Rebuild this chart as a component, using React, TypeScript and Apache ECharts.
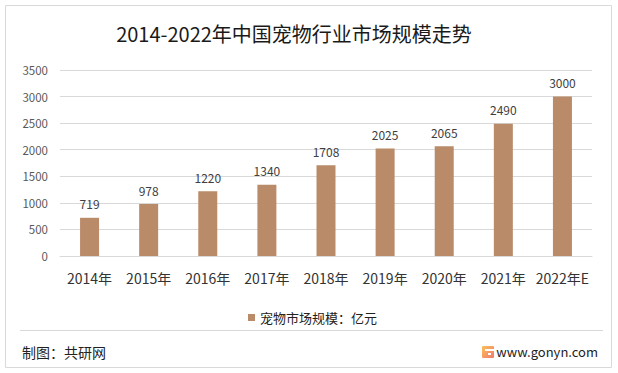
import React, { useEffect, useRef } from "react";
import * as echarts from "echarts";

const categories = ["2014年", "2015年", "2016年", "2017年", "2018年", "2019年", "2020年", "2021年", "2022年E"];
const marketSize = [719, 978, 1220, 1340, 1708, 2025, 2065, 2490, 3000];
const yTicks = [0, 500, 1000, 1500, 2000, 2500, 3000, 3500];
const titleText = "2014-2022年中国宠物行业市场规模走势";
const seriesName = "宠物市场规模：亿元";
const sourceText = "制图：共研网";
const siteText = "www.gonyn.com";

export default function App() {
  const ref = useRef<HTMLDivElement>(null);
  useEffect(() => {
    if (!ref.current) return;
    const chart = echarts.init(ref.current, undefined, { renderer: "svg" });
    const font = "'Microsoft YaHei', 'Noto Sans CJK SC', 'Noto Sans', sans-serif";
    chart.setOption({
      animation: false,
      backgroundColor: "#ffffff",
      textStyle: { fontFamily: font },
      title: {
        text: titleText,
        left: 289,
        textAlign: "center",
        top: 18,
        textStyle: { fontSize: 20, fontWeight: "normal", color: "#1a1a1a", fontFamily: font },
      },
      legend: {
        data: [seriesName],
        left: 243,
        top: 306,
        itemWidth: 7,
        itemHeight: 7,
        itemGap: 4,
        icon: "rect",
        textStyle: { fontSize: 13, color: "#222", fontFamily: font },
      },
      grid: { left: 60, right: 26, top: 70, bottom: 117 },
      xAxis: {
        type: "category",
        data: categories,
        axisLine: { show: true, lineStyle: { color: "#d9d9d9" } },
        axisTick: { show: false },
        axisLabel: { interval: 0, fontSize: 14, color: "#333", margin: 15, fontFamily: font },
      },
      yAxis: {
        type: "value",
        min: yTicks[0],
        max: yTicks[yTicks.length - 1],
        interval: 500,
        axisLine: { show: false },
        axisTick: { show: false },
        axisLabel: {
          fontSize: 11.5,
          color: "#595959",
          margin: 12,
          fontFamily: font,
          formatter: (v: number) => String(v),
        },
        splitLine: { lineStyle: { color: "#d9d9d9" } },
      },
      series: [
        {
          name: seriesName,
          type: "bar",
          data: marketSize,
          barWidth: 19,
          itemStyle: { color: "#B98B69" },
          label: { show: true, position: "top", distance: 8, fontSize: 12, color: "#404040", fontFamily: font },
        },
      ],
      graphic: [
        {
          type: "rect",
          shape: { x: 5.5, y: 5.5, width: 606, height: 362 },
          style: { fill: "none", stroke: "#d9d9d9", lineWidth: 1 },
          silent: true,
        },
        {
          type: "line",
          shape: { x1: 20, y1: 330.5, x2: 603, y2: 330.5 },
          style: { stroke: "#d9d9d9", lineWidth: 1 },
        },
        {
          type: "text",
          x: 22,
          y: 352,
          style: { text: sourceText, fontSize: 14, fill: "#222", fontFamily: font, verticalAlign: "middle" },
        },
        {
          type: "rect",
          shape: { x: 482, y: 346, width: 12, height: 12, r: 1 },
          style: {
            fill: new echarts.graphic.LinearGradient(0, 0, 1, 1, [
              { offset: 0, color: "#FBC05B" },
              { offset: 1, color: "#F07A6A" },
            ]),
          },
        },
        {
          type: "rect",
          shape: { x: 485, y: 349, width: 9, height: 2 },
          style: { fill: "#ffffff" },
        },
        {
          type: "rect",
          shape: { x: 488, y: 353, width: 3, height: 2 },
          style: { fill: "#ffffff" },
        },
        {
          type: "text",
          x: 598,
          y: 351,
          style: { text: siteText, fontSize: 13, fill: "#222", fontFamily: font, align: "right", verticalAlign: "middle" },
        },
      ],
    });
    return () => chart.dispose();
  }, []);
  return <div ref={ref} style={{ position: "absolute", left: 0, top: 0, width: 618, height: 373 }} />;
}
